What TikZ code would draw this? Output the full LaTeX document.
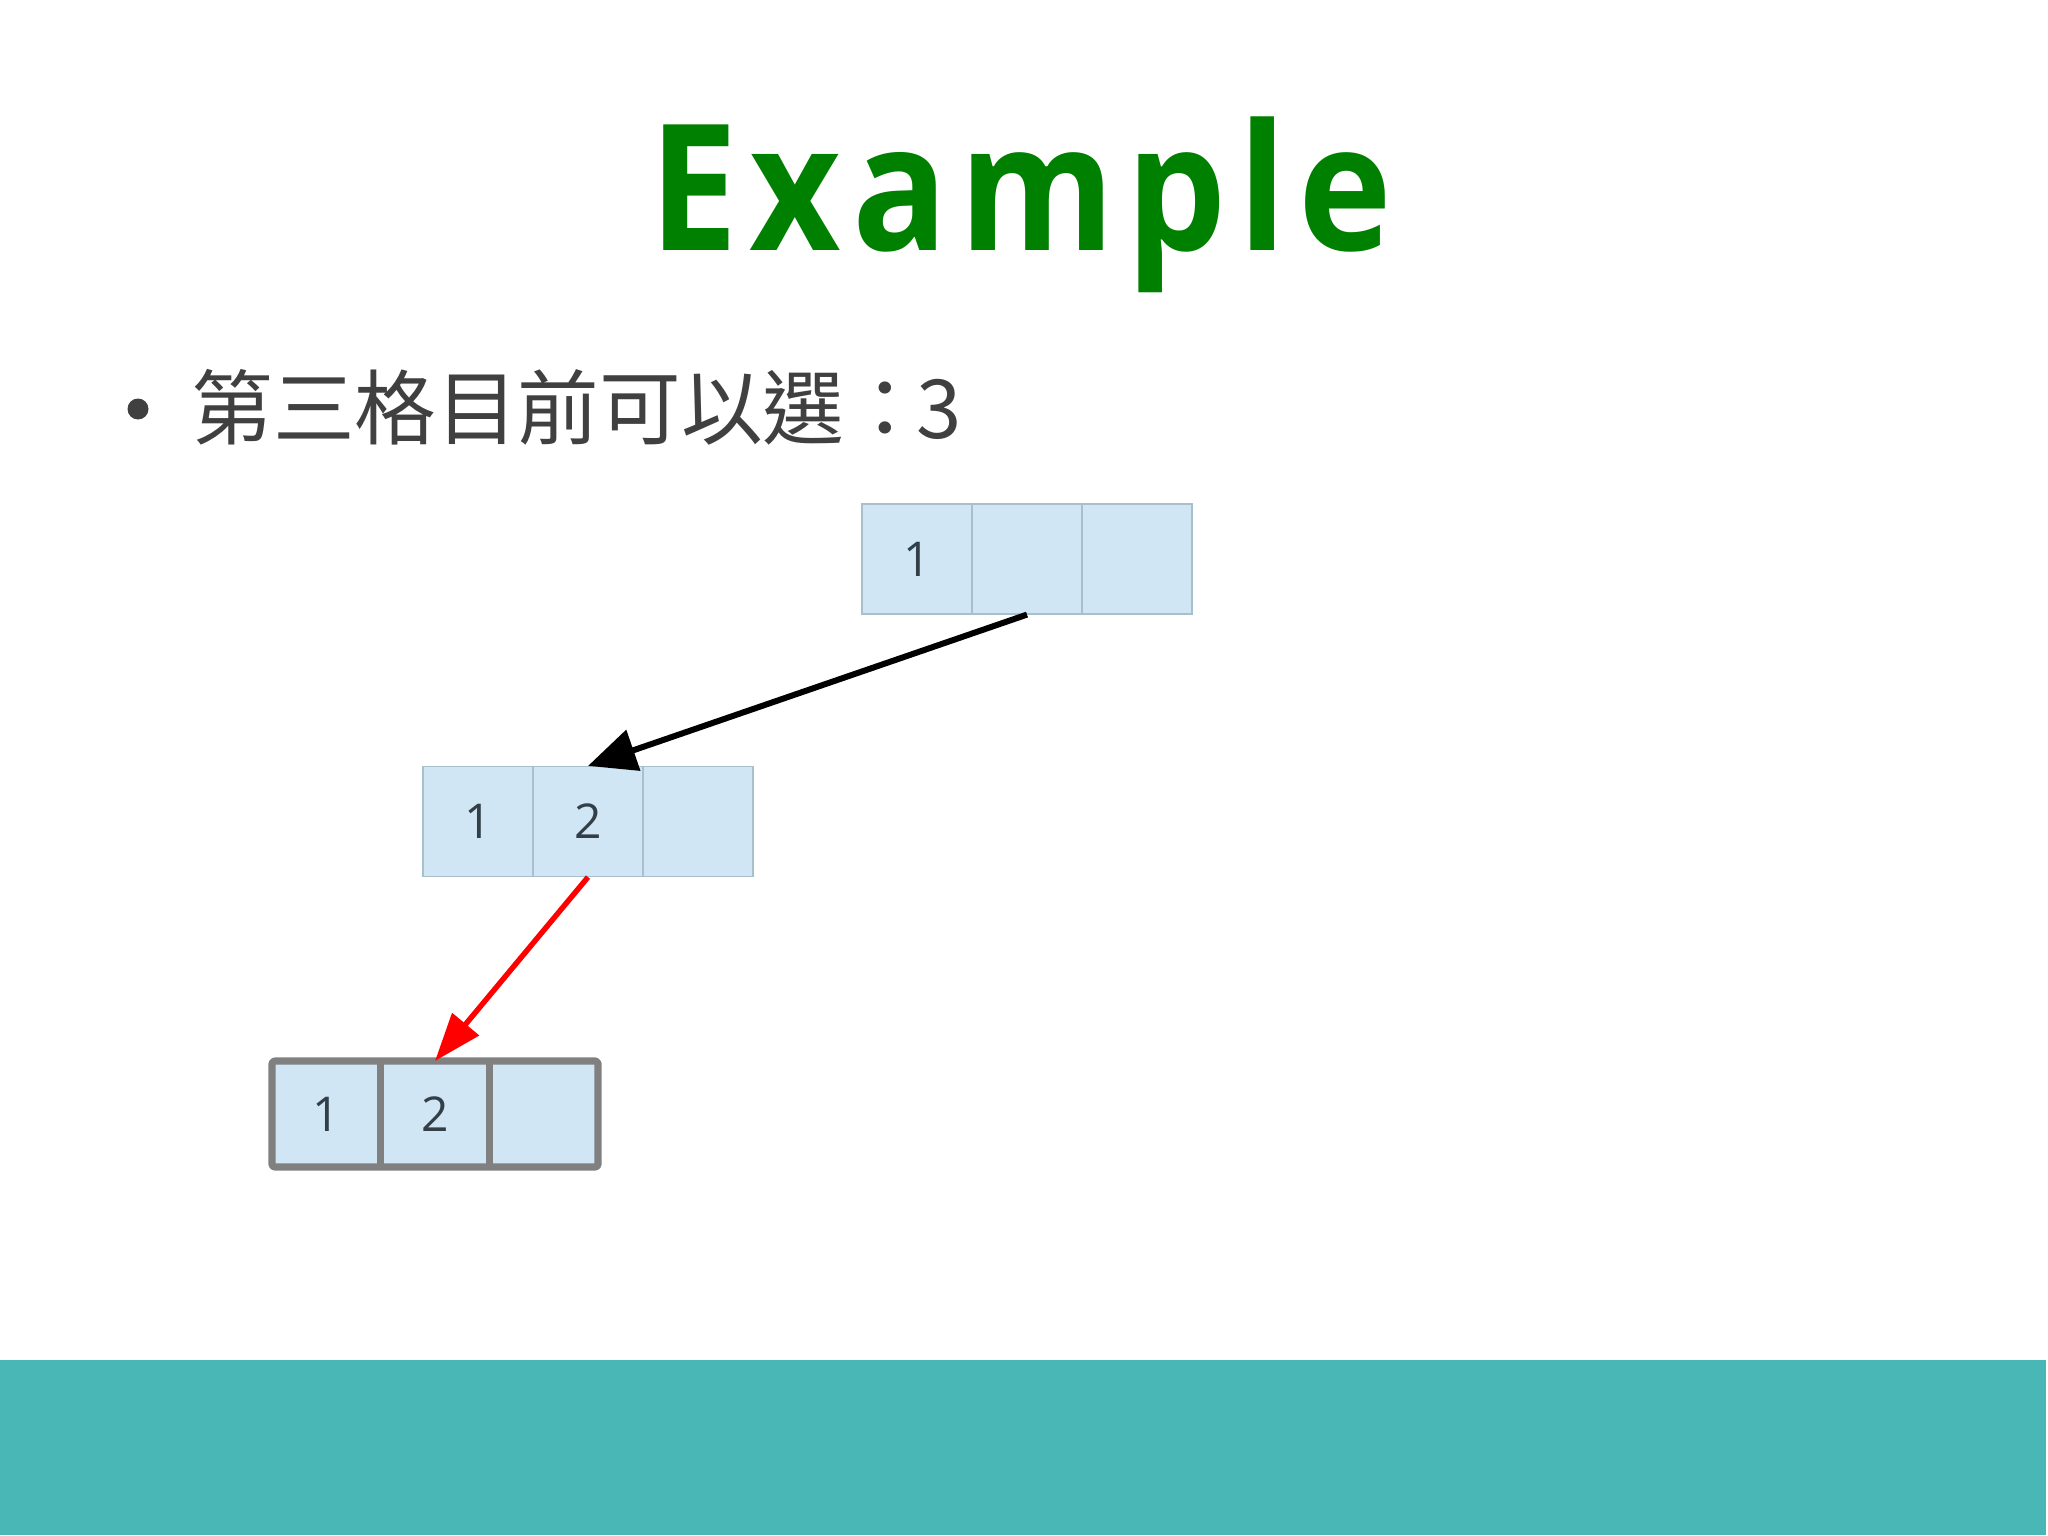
\documentclass[tikz,border=0pt]{standalone}
\usepackage{fontspec}
\usetikzlibrary{arrows.meta}
\newfontfamily\titlefont{Open Sans}[UprightFont=*-Bold, FakeStretch=0.9, LetterSpace=6.5]
\newfontfamily\cjkfont{Noto Sans CJK TC}
\newfontfamily\numfont{Open Sans}
\definecolor{titlegreen}{HTML}{008000}
\definecolor{bodygray}{HTML}{404040}
\definecolor{cellfill}{HTML}{D0E6F4}
\definecolor{cellline}{HTML}{A8BFCC}
\definecolor{boldline}{HTML}{808080}
\definecolor{numcol}{HTML}{333F48}
\definecolor{band}{HTML}{48B7B5}
\tikzset{
  cell/.style={rectangle, minimum width=55pt, minimum height=55pt, inner sep=0pt,
    fill=cellfill, draw=cellline, line width=0.6pt, text=numcol,
    font=\numfont\fontsize{24}{28}\selectfont},
  boldcell/.style={rectangle, minimum width=54.35pt, minimum height=53pt, inner sep=0pt,
    outer sep=0pt, fill=cellfill, text=numcol, font=\numfont\fontsize{24}{28}\selectfont},
  boldframe/.style={draw=boldline, line width=3.6pt, line join=round},
}
\begin{document}
\begin{tikzpicture}[x=0.5pt,y=-0.5pt]
\fill[white] (0,0) rectangle (2048,1535);
\useasboundingbox (0,0) rectangle (2048,1535);
\fill[band] (0,1360) rectangle (2046,1535);
% title
\node[anchor=base west, text=titlegreen, inner sep=0pt, font=\titlefont\fontsize{88}{100}\selectfont] (title) at (649,251) {Example};
% bullet line
\node[circle, fill=bodygray, minimum size=10.5pt, inner sep=0pt] (bullet) at (138,409) {};
\node[anchor=base west, inner sep=0pt, text=bodygray, font=\cjkfont\fontsize{40.8}{48}\selectfont] (line) at (191,438) {第三格目前可以選：\kern-4.5pt3};
% box 1
\node[cell] (a1) at (917,559) {1};
\node[cell] (a2) at (1027,559) {};
\node[cell] (a3) at (1137,559) {};
% box 2
\node[cell] (b1) at (478,821.5) {1};
\node[cell] (b2) at (588,821.5) {2};
\node[cell] (b3) at (698,821.5) {};
% box 3
\node[boldcell] (c1) at (326.3,1114) {1};
\node[boldcell] (c2) at (435,1114) {2};
\node[boldcell] (c3) at (543.7,1114) {};
\draw[boldframe, rounded corners=1.5pt] (c1.north west) rectangle (c3.south east);
\draw[boldframe] (c1.north east) -- (c1.south east);
\draw[boldframe] (c2.north east) -- (c2.south east);
% arrows
\draw[black, line width=3pt, -{Triangle[length=24pt,width=21pt]}] (a2.south) -- (b2.north);
\draw[red, line width=2.7pt, -{Triangle[length=24pt,width=17pt]}] (b2.south) -- (c2.north);
\end{tikzpicture}
\end{document}
